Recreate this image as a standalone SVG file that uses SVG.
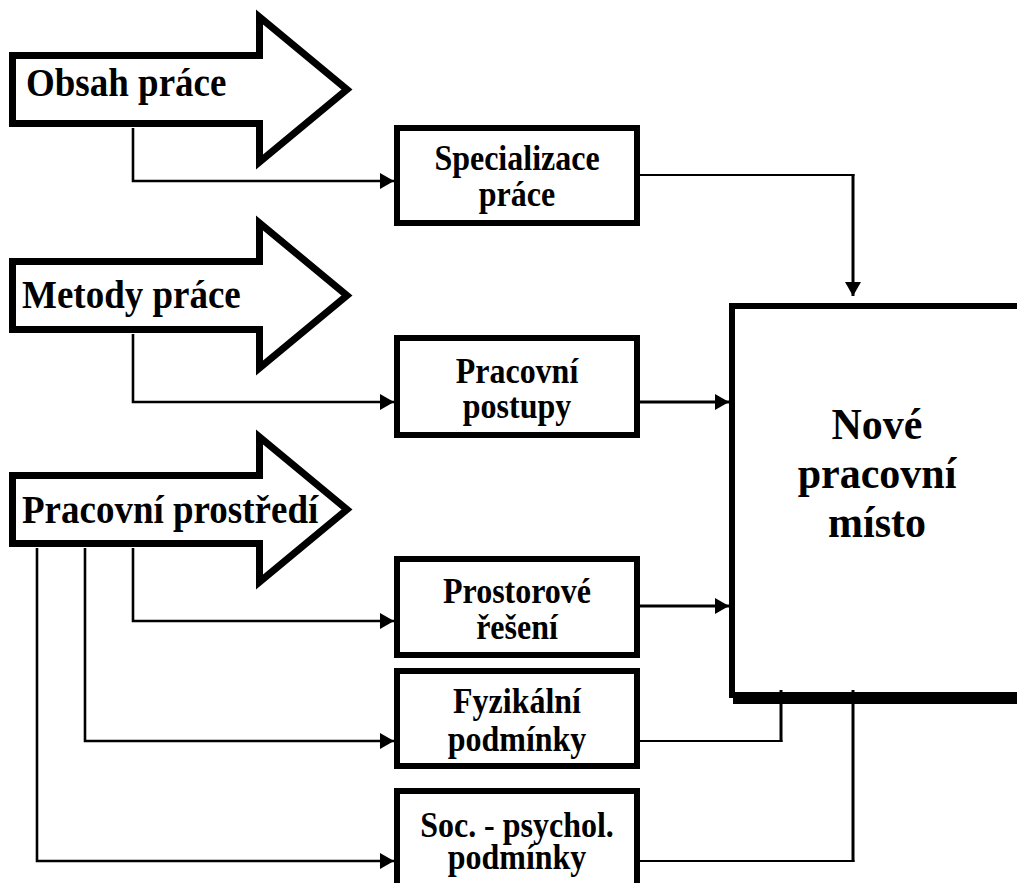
<svg xmlns="http://www.w3.org/2000/svg" width="1017" height="883" viewBox="0 0 1017 883">
<style>
.big{fill:#fff;stroke:#000;stroke-width:7;stroke-linejoin:miter;stroke-miterlimit:10}
.box{fill:#fff;stroke:#000;stroke-width:6}
.t{font-family:"Liberation Serif","Times New Roman",serif;font-weight:bold;fill:#000}
.at{font-size:37px}
.bt{font-size:32px;text-anchor:middle}
.nt{font-size:42px;text-anchor:middle}
.c{fill:none;stroke:#000;stroke-width:2.6}
.thin{fill:none;stroke:#000;stroke-width:2}
.thick{fill:none;stroke:#000;stroke-width:3}
</style>
<defs>
<marker id="ah" markerUnits="userSpaceOnUse" markerWidth="14" markerHeight="16" refX="14" refY="8" orient="auto" viewBox="0 0 14 16">
<path d="M0,0 L14,8 L0,16 Z" fill="#000"/>
</marker>
</defs>

<g id="nove-pracovni-misto">
<rect class="box" x="732" y="306" width="300" height="389"/>
<rect x="733" y="697" width="300" height="7" fill="#000"/>
<text class="t nt" transform="translate(877,439) scale(1,1.04)">Nové</text>
<text class="t nt" transform="translate(877,488) scale(1,1.04)">pracovní</text>
<text class="t nt" transform="translate(877,537) scale(1,1.04)">místo</text>
</g>

<g id="obsah-prace">
<path class="big" d="M12.5,55.5 H259.5 V17 L347,89.5 L259.5,162 V123.5 H12.5 Z"/>
<text class="t at" transform="translate(26,96) scale(1,1.11)">Obsah práce</text>
</g>
<g id="metody-prace">
<path class="big" d="M12.5,261.5 H259.5 V223 L347,295.5 L259.5,368 V329.5 H12.5 Z"/>
<text class="t at" transform="translate(22,308) scale(1,1.11)">Metody práce</text>
</g>
<g id="pracovni-prostredi">
<path class="big" d="M12.5,475.5 H259.5 V437 L347,509.5 L259.5,582 V543.5 H12.5 Z"/>
<text class="t at" transform="translate(22,523) scale(1,1.11)">Pracovní prostředí</text>
</g>

<g id="specializace-prace">
<rect class="box" x="397" y="128" width="240" height="95"/>
<text class="t bt" transform="translate(517,170) scale(1,1.1)">Specializace</text>
<text class="t bt" transform="translate(517,206) scale(1,1.1)">práce</text>
</g>
<g id="pracovni-postupy">
<rect class="box" x="397" y="338" width="240" height="97"/>
<text class="t bt" transform="translate(517,383) scale(1,1.1)">Pracovní</text>
<text class="t bt" transform="translate(517,418) scale(1,1.1)">postupy</text>
</g>
<g id="prostorove-reseni">
<rect class="box" x="397" y="559" width="240" height="96"/>
<text class="t bt" transform="translate(517,603) scale(1,1.1)">Prostorové</text>
<text class="t bt" transform="translate(517,639) scale(1,1.1)">řešení</text>
</g>
<g id="fyzikalni-podminky">
<rect class="box" x="397" y="671" width="240" height="95"/>
<text class="t bt" transform="translate(517,713) scale(1,1.1)">Fyzikální</text>
<text class="t bt" transform="translate(517,751) scale(1,1.1)">podmínky</text>
</g>
<g id="soc-psychol-podminky">
<rect class="box" x="397" y="791" width="240" height="100"/>
<text class="t bt" transform="translate(517,837) scale(1,1.1)">Soc. - psychol.</text>
<text class="t bt" transform="translate(517,869) scale(1,1.1)">podmínky</text>
</g>

<g id="connectors">
<path class="c" d="M133,128 V181 H394" marker-end="url(#ah)"/>
<path class="c" d="M133,334 V402 H394" marker-end="url(#ah)"/>
<path class="c" d="M133,548 V621 H394" marker-end="url(#ah)"/>
<path class="c" d="M85,548 V741 H394" marker-end="url(#ah)"/>
<path class="c" d="M37,548 V861 H394" marker-end="url(#ah)"/>
<path class="thin" d="M640,175 H854.5"/>
<path class="thick" d="M853,174 V296" marker-end="url(#ah)"/>
<path class="thick" d="M640,402 H729" marker-end="url(#ah)"/>
<path class="thick" d="M640,606 H729" marker-end="url(#ah)"/>
<path class="thin" d="M640,741 H782.5"/>
<path class="thick" d="M781,742 V690" marker-end="url(#ah)"/>
<path class="thin" d="M640,861 H854.5"/>
<path class="thick" d="M853,862 V690" marker-end="url(#ah)"/>
</g>
</svg>
